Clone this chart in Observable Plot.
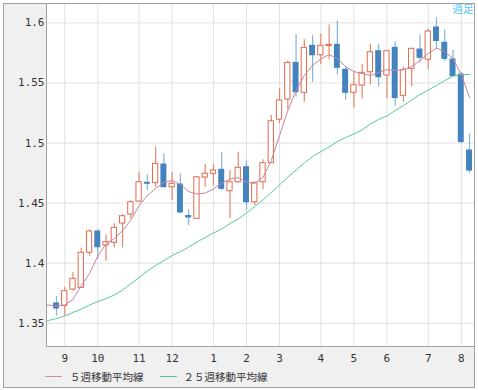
<!DOCTYPE html>
<html><head><meta charset="utf-8">
<script src="https://cdn.jsdelivr.net/npm/d3@7"></script>
<script src="https://cdn.jsdelivr.net/npm/@observablehq/plot@0.6"></script>
<style>
html,body{margin:0;padding:0;background:#fff;}
#wrap{position:relative;width:478px;height:390px;overflow:hidden;}
#frame{position:absolute;left:3px;top:3px;width:472px;height:385px;box-sizing:border-box;border:1px solid #a0a0a0;background:#f0f0f0;}
#chart{position:absolute;left:0;top:0;}
#legend{position:absolute;left:45px;top:368px;height:16px;font:10.5px "Noto Sans CJK JP";color:#333;display:flex;align-items:center;white-space:nowrap;}
.sw{display:inline-block;width:17px;height:0;border-top:1px solid;margin-right:8px;}
.lab{margin-right:16px;letter-spacing:0px;}
</style></head>
<body>
<div id="wrap"><div id="frame"></div><div id="chart"></div>
<div id="legend"><span class="sw" style="border-color:#d28aa8"></span><span class="lab" id="l1"></span><span class="sw" style="border-color:#55cc95;margin-right:7px"></span><span class="lab" id="l2"></span></div>
</div>
<script>
// Weekly candles (index 0 = first week shown)
const opens  = [1.3665,1.3645,1.3781,1.3795,1.4087,1.4264,1.4147,1.4170,1.4330,1.4405,1.4513,1.4669,1.4666,1.4821,1.4632,1.4655,1.4393,1.4369,1.4713,1.4744,1.4777,1.4599,1.4674,1.4799,1.4507,1.4674,1.4832,1.5195,1.5362,1.5667,1.5418,1.5809,1.5730,1.5807,1.5817,1.5609,1.5418,1.5478,1.5589,1.5764,1.5562,1.5792,1.5393,1.5617,1.5778,1.5693,1.5961,1.5834,1.5695,1.5570,1.4938];
const highs  = [1.3723,1.3800,1.3925,1.4125,1.4278,1.4278,1.4236,1.4328,1.4405,1.4522,1.4752,1.4735,1.4965,1.4910,1.4755,1.4744,1.4444,1.4722,1.4821,1.4821,1.4921,1.4771,1.4923,1.4854,1.4675,1.4860,1.5229,1.5451,1.5680,1.5903,1.5859,1.5894,1.5908,1.5982,1.6015,1.5631,1.5589,1.5653,1.5821,1.5821,1.5770,1.5840,1.5631,1.5789,1.5900,1.5948,1.6042,1.5940,1.5770,1.5587,1.5077];
const lows   = [1.3559,1.3559,1.3767,1.3790,1.4058,1.4031,1.4017,1.4128,1.4128,1.4369,1.4507,1.4605,1.4632,1.4627,1.4522,1.4411,1.4314,1.4365,1.4632,1.4641,1.4605,1.4369,1.4666,1.4438,1.4480,1.4611,1.4830,1.5160,1.5276,1.5381,1.5339,1.5506,1.5653,1.5695,1.5566,1.5359,1.5291,1.5366,1.5483,1.5466,1.5368,1.5306,1.5339,1.5470,1.5665,1.5611,1.5778,1.5678,1.5555,1.4993,1.4749];
const closes = [1.3623,1.3767,1.3870,1.4087,1.4264,1.4133,1.4175,1.4294,1.4391,1.4507,1.4674,1.4661,1.4827,1.4632,1.4661,1.4422,1.4380,1.4715,1.4744,1.4771,1.4619,1.4674,1.4794,1.4507,1.4669,1.4832,1.5181,1.5354,1.5667,1.5423,1.5792,1.5730,1.5809,1.5817,1.5626,1.5418,1.5481,1.5584,1.5755,1.5547,1.5764,1.5374,1.5607,1.5784,1.5709,1.5928,1.5849,1.5700,1.5557,1.5008,1.4771];

// Moving averages, starting at week index -2
const maStart = -2;
const ma5  = [1.3650,1.3652,1.3644,1.3652,1.3698,1.3814,1.3914,1.4060,1.4161,1.4205,1.4272,1.4359,1.4480,1.4563,1.4621,1.4674,1.4688,1.4655,1.4596,1.4576,1.4584,1.4617,1.4667,1.4700,1.4713,1.4674,1.4663,1.4715,1.4854,1.5062,1.5270,1.5437,1.5562,1.5645,1.5700,1.5736,1.5703,1.5636,1.5595,1.5578,1.5562,1.5587,1.5611,1.5603,1.5611,1.5636,1.5686,1.5745,1.5790,1.5761,1.5703,1.5570,1.5379];
const ma25 = [1.3507,1.3523,1.3540,1.3561,1.3590,1.3619,1.3652,1.3681,1.3706,1.3735,1.3777,1.3829,1.3881,1.3935,1.3981,1.4022,1.4064,1.4097,1.4133,1.4176,1.4214,1.4251,1.4285,1.4330,1.4368,1.4418,1.4472,1.4526,1.4588,1.4651,1.4717,1.4775,1.4834,1.4888,1.4929,1.4967,1.5012,1.5046,1.5075,1.5110,1.5158,1.5196,1.5225,1.5270,1.5312,1.5358,1.5403,1.5441,1.5478,1.5520,1.5557,1.5570,1.5570];

// Axis ticks
const monthTickIdx = [1,5,10,14,19,23,27,32,36,40,45,49];
const monthLabels  = ["9","10","11","12","1","2","3","4","5","6","7","8"];
const yTickValues  = [1.35,1.4,1.45,1.5,1.55,1.6];
const yTickLabels  = ["1.35","1.4","1.45","1.5","1.55","1.6"];
const seriesNames  = ["５週移動平均線","２５週移動平均線"];
const periodLabel  = "週足";

const candles = opens.map((o,i)=>({i, o, h: highs[i], l: lows[i], c: closes[i], up: closes[i] >= o}));
const ma5Data  = ma5.map((v,k)=>({i: k+maStart, v}));
const ma25Data = ma25.map((v,k)=>({i: k+maStart, v}));

const RED = "#e06a4c", REDW = "#e8866c", BLUE = "#4384be", BLUEW = "#86b3da";
const hw = 0.36;

const chart = Plot.plot({
  width: 478, height: 366,
  marginLeft: 46, marginRight: 4, marginTop: 3, marginBottom: 20,
  style: {background: "transparent", fontFamily: "'DejaVu Sans Mono', monospace", fontSize: "11px", color: "#333"},
  x: {type: "linear", domain: [-1.21, 50.6], label: null},
  y: {domain: [1.3307, 1.6161], label: null},
  marks: [
    Plot.frame({fill: "white", stroke: null}),
    Plot.gridX({ticks: monthTickIdx, stroke: "#e2e2e2", strokeOpacity: 1}),
    Plot.gridY({ticks: yTickValues, stroke: "#e2e2e2", strokeOpacity: 1}),
    Plot.ruleX(candles, {x: "i", y1: "l", y2: "h", stroke: d => d.up ? REDW : BLUEW, strokeWidth: 1.2}),
    Plot.rect(candles.filter(d=>d.up), {x1: d => d.i - hw + 0.04, x2: d => d.i + hw - 0.04, y1: "o", y2: "c", fill: "white", stroke: RED, strokeWidth: 1}),
    Plot.rect(candles.filter(d=>!d.up), {x1: d => d.i - hw, x2: d => d.i + hw, y1: "o", y2: "c", fill: BLUE, insetTop: -0.5, insetBottom: -0.5}),
    Plot.line(ma25Data, {x: "i", y: "v", stroke: "#55cc95", strokeWidth: 1, clip: true}),
    Plot.line(ma5Data, {x: "i", y: "v", stroke: "#cc82a2", strokeWidth: 1, clip: true}),
    Plot.axisY({ticks: yTickValues, tickFormat: d => yTickLabels[yTickValues.indexOf(d)], tickSize: 0, tickPadding: 2, label: null}),
    Plot.axisX({ticks: monthTickIdx, tickFormat: d => monthLabels[monthTickIdx.indexOf(d)], tickSize: 0, tickPadding: 8, label: null}),
    Plot.frame({stroke: "#a0a0a0"}),
    Plot.text([periodLabel], {frameAnchor: "top-right", text: d => d, dx: -1, dy: 2, fill: "#58c4f2", fontSize: 10.5, fontFamily: "Noto Sans CJK JP", textAnchor: "end", lineAnchor: "top"})
  ]
});
document.getElementById("chart").appendChild(chart);
document.getElementById("l1").textContent = seriesNames[0];
document.getElementById("l2").textContent = seriesNames[1];
</script>
</body></html>
